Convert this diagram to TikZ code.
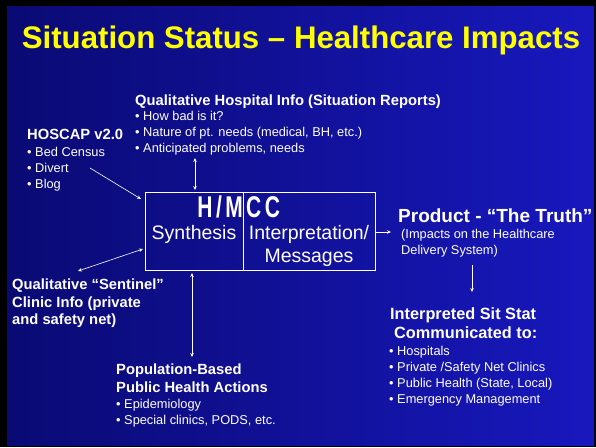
\documentclass[tikz,border=0pt]{standalone}
\usepackage{fontspec}
\setmainfont{Liberation Sans}
\usetikzlibrary{arrows.meta}

\definecolor{slidedark}{HTML}{0A0A74}
\definecolor{slideblue}{HTML}{1818BE}
\definecolor{titleyellow}{HTML}{FFFF00}

\tikzset{
  head/.style={anchor=base west, inner sep=0pt, text=white, font=\fontsize{14.75}{16}\selectfont\bfseries},
  item/.style={anchor=base west, inner sep=0pt, text=white, font=\fontsize{12.8}{14}\selectfont},
  boxtext/.style={inner sep=0pt, text=white, font=\fontsize{19.5}{22}\selectfont},
  logo/.style={inner sep=0pt, text=white, font=\fontsize{30}{30}\selectfont\bfseries, xscale=0.7},
  link/.style={white, line width=0.6pt, -{Stealth[length=4pt,width=3.5pt]}},
  twolink/.style={white, line width=0.6pt, {Stealth[length=4pt,width=3.5pt]}-{Stealth[length=4pt,width=3.5pt]}}
}

\begin{document}
\begin{tikzpicture}[x=1pt,y=-1pt]
\useasboundingbox (0,0) rectangle (596,447);
% slide background
\fill[black] (0,0) rectangle (596,447);
\shade[shading angle=135, left color=slidedark, right color=slideblue] (7,6) rectangle (594,445);

% title
\node (title) at (301,48) [anchor=base, inner sep=0pt, text=titleyellow, font=\fontsize{31.2}{34}\selectfont\bfseries] {Situation Status -- Healthcare Impacts};

% central box
\draw[white, line width=0.6pt] (145,192) rectangle (375,270);
\draw[white, line width=0.6pt] (243,192) -- (243,270);
\node (hm) at (243,217) [logo, anchor=base east] {H\,/\,M};
\node (cc) at (246,217) [logo, anchor=base west] {C\,C};
\node (synth) at (194,239) [boxtext, anchor=base] {Synthesis};
\node (interp) at (309,239) [boxtext, anchor=base] {Interpretation/};
\node (msg) at (309,262) [boxtext, anchor=base] {Messages};

% qualitative hospital info
\node (qhi) at (135,105) [head] {Qualitative Hospital Info (Situation Reports)};
\node (qhia) at (135,120) [item] {• How bad is it?};
\node (qhib) at (135,136) [item] {• Nature of pt. needs (medical, BH, etc.)};
\node (qhic) at (135,152) [item] {• Anticipated problems, needs};

% hoscap
\node (hoscap) at (27,139) [head] {HOSCAP v2.0};
\node (hoscapa) at (27,156) [item] {• Bed Census};
\node (hoscapb) at (27,172) [item] {• Divert};
\node (hoscapc) at (27,188) [item] {• Blog};

% sentinel clinics
\node (sent) at (12,289) [head] {Qualitative “Sentinel”};
\node (senta) at (12,307) [head] {Clinic Info (private};
\node (sentb) at (12,324) [head] {and safety net)};

% population based
\node (pop) at (116,374) [head] {Population-Based};
\node (popa) at (116,392) [head] {Public Health Actions};
\node (popb) at (116,408) [item] {• Epidemiology};
\node (popc) at (116,424) [item] {• Special clinics, PODS, etc.};

% product
\node (prod) at (398,222) [head, font=\fontsize{19}{22}\selectfont\bfseries] {Product - “The Truth”};
\node (proda) at (401,238) [item] {(Impacts on the Healthcare};
\node (prodb) at (401,254) [item] {Delivery System)};

% interpreted sit stat
\node (sit) at (390,319) [head, font=\fontsize{16.3}{18}\selectfont\bfseries] {Interpreted Sit Stat};
\node (sita) at (394,338) [head, font=\fontsize{16.3}{18}\selectfont\bfseries] {Communicated to:};
\node (sitb) at (389,355) [item] {• Hospitals};
\node (sitc) at (389,371) [item] {• Private /Safety Net Clinics};
\node (sitd) at (389,387) [item] {• Public Health (State, Local)};
\node (site) at (389,403) [item] {• Emergency Management};

% connectors
\coordinate (hoscapend) at (90,168);
\coordinate (boxin) at (141,199);
\coordinate (qhiend) at (195,158);
\coordinate (boxtop) at (195,190);
\coordinate (sentend) at (78,271);
\coordinate (boxleft) at (143,249);
\coordinate (boxbot) at (192,273);
\coordinate (popend) at (192,357);
\coordinate (boxright) at (375,232);
\coordinate (prodin) at (391,232);
\coordinate (prodout) at (472,265);
\coordinate (sitin) at (472,292);
\draw[link] (hoscapend) -- (boxin);
\draw[twolink] (qhiend) -- (boxtop);
\draw[twolink] (sentend) -- (boxleft);
\draw[twolink] (boxbot) -- (popend);
\draw[link] (boxright) -- (prodin);
\draw[link] (prodout) -- (sitin);
\end{tikzpicture}
\end{document}
